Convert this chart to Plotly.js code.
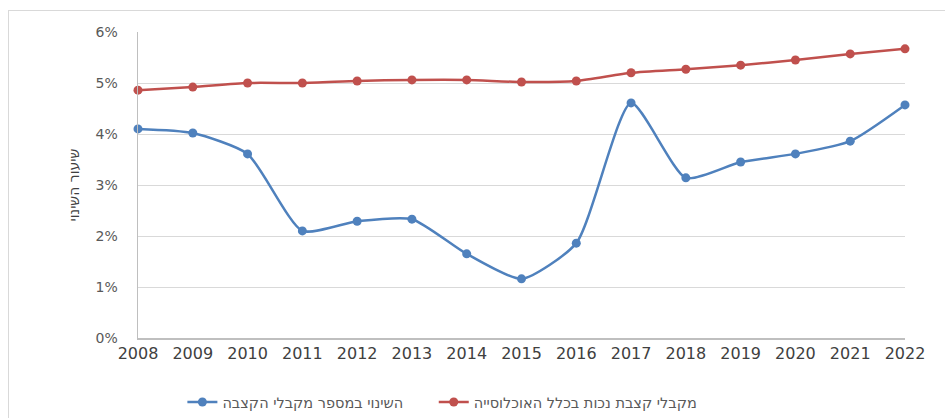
<!DOCTYPE html>
<html>
<head>
<meta charset="utf-8">
<script src="https://cdn.plot.ly/plotly-3.0.1.min.js"></script>
<style>
  body { margin: 0; background: #fff; }
  #frame { position: absolute; left: 8px; top: 10px; width: 945px; height: 420px; border-left: 1px solid #d9d9d9; border-top: 1px solid #d9d9d9; }
  #chart { position: absolute; left: 0; top: 0; width: 945px; height: 418px; }
</style>
</head>
<body>
<div id="frame"></div>
<div id="chart"></div>
<script>
const years = [2008, 2009, 2010, 2011, 2012, 2013, 2014, 2015, 2016, 2017, 2018, 2019, 2020, 2021, 2022];
const changeRecipients = [0.0410, 0.0402, 0.0361, 0.0210, 0.0229, 0.0233, 0.0165, 0.0116, 0.0186, 0.0461, 0.0314, 0.0345, 0.0361, 0.0386, 0.0457];
const recipientsShare = [0.0486, 0.0492, 0.0500, 0.0500, 0.0504, 0.0506, 0.0506, 0.0502, 0.0504, 0.0520, 0.0527, 0.0535, 0.0545, 0.0557, 0.0567];
const seriesNames = ['השינוי במספר מקבלי הקצבה', 'מקבלי קצבת נכות בכלל האוכלוסייה'];
const yTitle = 'שיעור השינוי';

const fontFam = 'DejaVu Sans, Liberation Sans, Arial, sans-serif';

const traces = [
  {
    x: years, y: changeRecipients, name: seriesNames[0], type: 'scatter', mode: 'lines+markers',
    line: { color: '#4F81BD', width: 2.5, shape: 'spline', smoothing: 0.6 },
    marker: { color: '#4F81BD', size: 9 }, cliponaxis: false, legend: 'legend'
  },
  {
    x: years, y: recipientsShare, name: seriesNames[1], type: 'scatter', mode: 'lines+markers',
    line: { color: '#C0504D', width: 2.5, shape: 'spline', smoothing: 0.6 },
    marker: { color: '#C0504D', size: 9 }, cliponaxis: false, legend: 'legend2'
  }
];

const legendFont = { size: 14.5, color: '#595959', family: fontFam };

const layout = {
  width: 945, height: 418,
  margin: { l: 138, r: 40, t: 32, b: 80, autoexpand: false },
  paper_bgcolor: 'rgba(0,0,0,0)', plot_bgcolor: 'rgba(0,0,0,0)',
  font: { family: fontFam, color: '#595959' },
  showlegend: true,
  legend: {
    orientation: 'h', xref: 'container', x: 0.193, xanchor: 'left',
    yref: 'container', y: 0.038, yanchor: 'middle', font: legendFont
  },
  legend2: {
    orientation: 'h', xref: 'container', x: 0.459, xanchor: 'left',
    yref: 'container', y: 0.038, yanchor: 'middle', font: legendFont
  },
  xaxis: {
    range: [2008, 2022], dtick: 1, tick0: 2008,
    showgrid: false, zeroline: false,
    showline: true, linecolor: '#bfbfbf', linewidth: 1.5,
    ticks: '', tickfont: { size: 16, color: '#404040', family: fontFam }
  },
  yaxis: {
    range: [0, 0.06], dtick: 0.01, tickformat: '.0%',
    showgrid: true, gridcolor: '#d9d9d9', gridwidth: 1,
    zeroline: false, showline: true, linecolor: '#bfbfbf', linewidth: 1.5,
    ticks: 'outside', ticklen: 16, tickcolor: 'rgba(0,0,0,0)',
    tickfont: { size: 14, color: '#595959', family: fontFam },
    title: { text: yTitle, font: { size: 14, color: '#404040', family: fontFam }, standoff: 12 }
  }
};

Plotly.newPlot('chart', traces, layout, { displayModeBar: false, staticPlot: true });
</script>
</body>
</html>
